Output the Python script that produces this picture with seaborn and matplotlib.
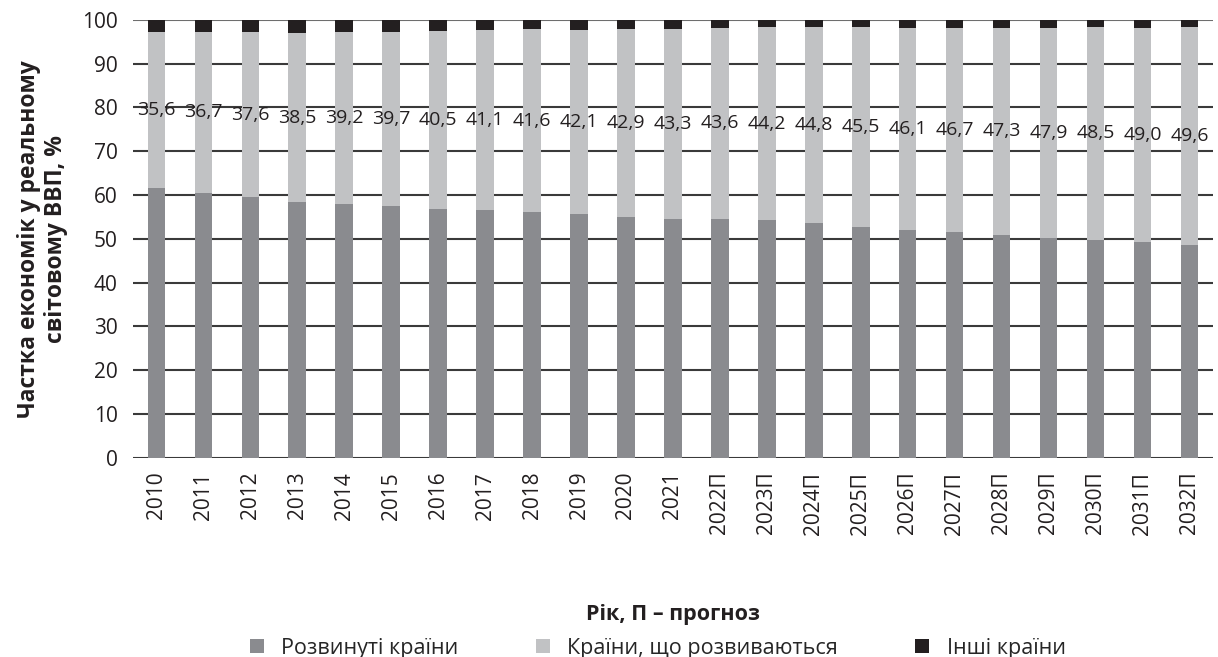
import numpy as np
import pandas as pd
import matplotlib
matplotlib.use("Agg")
import matplotlib.pyplot as plt
from matplotlib.patches import Patch
import seaborn as sns

years = ["2010", "2011", "2012", "2013", "2014", "2015", "2016", "2017", "2018",
         "2019", "2020", "2021", "2022П", "2023П", "2024П", "2025П", "2026П",
         "2027П", "2028П", "2029П", "2030П", "2031П", "2032П"]
developed = [61.5, 60.5, 59.5, 58.4, 58.0, 57.6, 56.9, 56.5, 56.2, 55.6, 54.9,
             54.6, 54.6, 54.2, 53.5, 52.8, 52.0, 51.5, 50.9, 50.2, 49.8, 49.2, 48.7]
developing = [35.6, 36.7, 37.6, 38.5, 39.2, 39.7, 40.5, 41.1, 41.6, 42.1, 42.9,
              43.3, 43.6, 44.2, 44.8, 45.5, 46.1, 46.7, 47.3, 47.9, 48.5, 49.0, 49.6]
others = [2.9, 2.8, 2.9, 3.1, 2.8, 2.7, 2.6, 2.4, 2.2, 2.3, 2.2,
          2.1, 1.8, 1.6, 1.7, 1.7, 1.9, 1.8, 1.8, 1.9, 1.7, 1.8, 1.7]
series_names = ["Розвинуті країни", "Країни, що розвиваються", "Інші країни"]
colors = ["#8a8b8f", "#c1c2c4", "#231f20"]

sns.set_theme(style="white")
plt.rcParams['font.family'] = ['Open Sans', 'DejaVu Sans']

fig = plt.figure(figsize=(12.18, 6.57), dpi=100)
ax = fig.add_axes([0.109, 0.303, 0.887, 0.667])

df = pd.DataFrame({"year": years, "developed": developed,
                   "developing": developing, "others": others})
dev = np.array(developed)
dvg = np.array(developing)

for v in range(0, 101, 10):
    ax.axhline(v, color="#3a3a3a" if v != 100 else "#6e6e6e", lw=1.5, zorder=0)

w = 0.37
sns.barplot(data=df, x="year", y="developed", color=colors[0], width=w,
            saturation=1, ax=ax, linewidth=0, zorder=2)
sns.barplot(data=df, x="year", y="developing", color=colors[1], width=w,
            saturation=1, ax=ax, linewidth=0, bottom=dev, zorder=2)
sns.barplot(data=df, x="year", y="others", color=colors[2], width=w,
            saturation=1, ax=ax, linewidth=0, bottom=dev + dvg, zorder=2)

cont = ax.containers[1]
ax.bar_label(cont, labels=[f"{v:.1f}".replace(".", ",") for v in developing],
             label_type="center", fontsize=14, color="#231f20", zorder=5)

ax.set_xlim(-0.5, len(years) - 0.5)
ax.set_ylim(0, 100)
ax.set_yticks(range(0, 101, 10))
ax.tick_params(axis="y", labelsize=15, length=0, pad=11, colors="#231f20")
ax.tick_params(axis="x", labelsize=15, length=0, pad=10, rotation=90, colors="#231f20")
for s in ax.spines.values():
    s.set_visible(False)

ax.set_xlabel("Рік, П – прогноз", fontsize=15.5, fontweight="bold", labelpad=50,
              color="#231f20")
ax.set_ylabel("Частка економік у реальному\nсвітовому ВВП, %", fontsize=16.5,
              fontweight="bold", labelpad=10, color="#231f20", linespacing=1.15)

handles = [Patch(facecolor=c, edgecolor="none") for c in colors]
fig.legend(handles, series_names, loc="lower center", bbox_to_anchor=(0.54, -0.032),
           ncol=3, frameon=False, fontsize=15.5, handlelength=0.65, handleheight=0.65,
           columnspacing=3.6, handletextpad=0.8)

fig.savefig("out.png", dpi=100)
